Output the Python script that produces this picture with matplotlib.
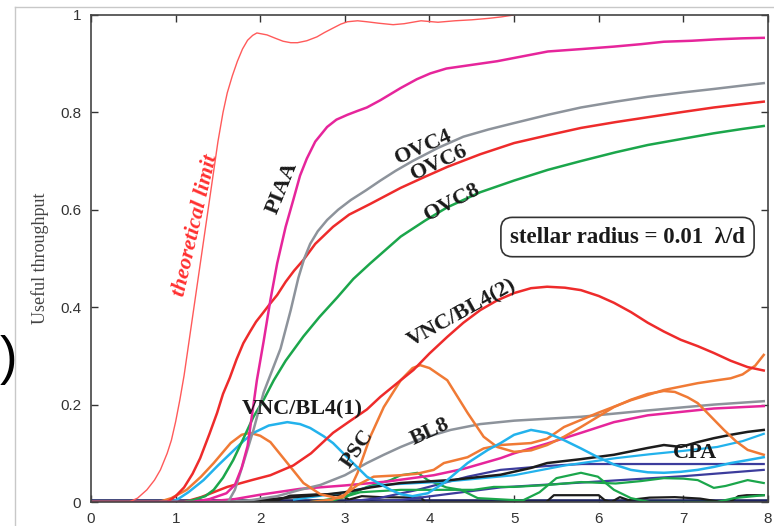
import matplotlib
matplotlib.use('Agg')
import matplotlib.pyplot as plt
from matplotlib.lines import Line2D

# ---- data ----
theo_x = [0, 0.45, 0.55, 0.66, 0.75, 0.82, 0.9, 0.95, 1.0, 1.05, 1.1, 1.2, 1.3, 1.4, 1.5, 1.56,
          1.61, 1.67, 1.73, 1.79, 1.85, 1.91, 1.96, 2.08, 2.18, 2.27, 2.36, 2.44, 2.55, 2.67,
          2.76, 2.86, 2.95, 3.03, 3.15, 3.26, 3.4, 3.57, 3.7, 3.9, 4.1, 4.3, 4.5, 4.7, 4.85, 5.0]
theo_y = [0, 0, 0.008, 0.025, 0.045, 0.066, 0.1, 0.127, 0.165, 0.21, 0.26, 0.38, 0.5, 0.62,
          0.74, 0.8, 0.84, 0.875, 0.905, 0.93, 0.948, 0.958, 0.963, 0.959, 0.952, 0.946,
          0.943, 0.943, 0.947, 0.955, 0.964, 0.973, 0.981, 0.986, 0.988, 0.986, 0.983, 0.98,
          0.982, 0.988, 0.985, 0.988, 0.99, 0.993, 0.996, 1.0]

piaa_x = [0, 1.2, 1.4, 1.6, 1.7, 1.78, 1.85, 1.92, 1.96, 2.04, 2.12, 2.2, 2.3, 2.39, 2.47, 2.55,
          2.65, 2.79, 2.9, 3.03, 3.15, 3.26, 3.42, 3.66, 3.85, 4.01, 4.2, 4.4, 4.6, 4.8, 5.1,
          5.4, 5.8, 6.18, 6.5, 6.77, 7.1, 7.4, 7.7, 7.95]
piaa_y = [0, 0, 0.006, 0.018, 0.035, 0.07, 0.115, 0.2, 0.25, 0.33, 0.415, 0.49, 0.565, 0.62,
          0.67, 0.705, 0.74, 0.77, 0.785, 0.795, 0.803, 0.81, 0.825, 0.85, 0.868, 0.88, 0.89,
          0.895, 0.9, 0.905, 0.915, 0.925, 0.93, 0.935, 0.94, 0.945, 0.947, 0.95, 0.952, 0.953]

ovc4_x = [0, 1.62, 1.7, 1.8, 1.92, 2.04, 2.14, 2.24, 2.36, 2.45, 2.52, 2.59, 2.68, 2.79, 2.92,
          3.07, 3.25, 3.42, 3.6, 3.8, 4.1, 4.4, 4.7, 5.0, 5.4, 5.79, 6.2, 6.58, 7.0, 7.36, 7.7, 7.95]
ovc4_y = [0, 0, 0.025, 0.08, 0.148, 0.225, 0.27, 0.315, 0.394, 0.46, 0.5, 0.53, 0.556, 0.579,
          0.6, 0.62, 0.64, 0.66, 0.68, 0.7, 0.727, 0.75, 0.765, 0.778, 0.795, 0.81, 0.822,
          0.832, 0.841, 0.848, 0.855, 0.86]

ovc6_x = [0, 0.9, 1.0, 1.1, 1.2, 1.29, 1.4, 1.49, 1.56, 1.64, 1.72, 1.8, 1.88, 1.95, 2.04, 2.12,
          2.2, 2.3, 2.4, 2.51, 2.65, 2.86, 3.05, 3.3, 3.66, 3.95, 4.21, 4.6, 5.0, 5.4, 5.79, 6.2,
          6.58, 7.0, 7.36, 7.7, 7.95]
ovc6_y = [0, 0, 0.012, 0.03, 0.058, 0.09, 0.14, 0.183, 0.222, 0.255, 0.293, 0.326, 0.35,
          0.37, 0.39, 0.408, 0.425, 0.452, 0.475, 0.497, 0.53, 0.565, 0.59, 0.612, 0.645,
          0.668, 0.688, 0.714, 0.737, 0.753, 0.768, 0.78, 0.79, 0.801, 0.81, 0.817, 0.822]

ovc8_x = [0, 1.1, 1.21, 1.35, 1.45, 1.56, 1.68, 1.8, 1.92, 2.04, 2.16, 2.3, 2.51, 2.7, 2.91, 3.1,
          3.3, 3.66, 3.95, 4.21, 4.6, 5.0, 5.4, 5.79, 6.2, 6.58, 7.0, 7.36, 7.7, 7.95]
ovc8_y = [0, 0, 0.004, 0.012, 0.025, 0.05, 0.086, 0.13, 0.175, 0.21, 0.25, 0.29, 0.34, 0.38,
          0.42, 0.458, 0.49, 0.545, 0.578, 0.605, 0.636, 0.66, 0.682, 0.70, 0.718, 0.733,
          0.746, 0.757, 0.766, 0.772]

vnc2_x = [0, 1.1, 1.3, 1.61, 1.9, 2.12, 2.39, 2.6, 2.86, 3.05, 3.26, 3.42, 3.66, 3.81, 4.0, 4.21,
          4.4, 4.6, 4.8, 5.0, 5.2, 5.39, 5.6, 5.79, 6.0, 6.18, 6.38, 6.58, 6.77, 6.97, 7.17,
          7.36, 7.56, 7.76, 7.95]
vnc2_y = [0, 0, 0.01, 0.031, 0.045, 0.055, 0.075, 0.1, 0.142, 0.165, 0.19, 0.216, 0.25, 0.271,
          0.305, 0.339, 0.368, 0.394, 0.414, 0.429, 0.439, 0.442, 0.44, 0.435, 0.423, 0.409,
          0.39, 0.368, 0.35, 0.333, 0.32, 0.306, 0.29, 0.277, 0.27]

vnc1_x = [0, 0.9, 1.01, 1.15, 1.33, 1.5, 1.65, 1.8, 1.92, 2.1, 2.32, 2.47, 2.59, 2.75, 2.86, 3.05,
          3.26, 3.54, 3.66, 3.8, 3.98, 4.17, 4.45, 4.69, 4.84, 5.0, 5.2, 5.39, 5.59, 5.79, 5.99,
          6.18, 6.38, 6.58, 6.77, 6.97, 7.17, 7.36, 7.56, 7.76, 7.95]
vnc1_y = [0, 0, 0.004, 0.02, 0.045, 0.075, 0.1, 0.125, 0.142, 0.157, 0.164, 0.16, 0.152, 0.135,
          0.121, 0.088, 0.052, 0.025, 0.016, 0.012, 0.018, 0.039, 0.08, 0.107, 0.121, 0.138,
          0.148, 0.142, 0.127, 0.11, 0.092, 0.077, 0.066, 0.061, 0.06, 0.062, 0.066, 0.072,
          0.08, 0.086, 0.092]

psc_x = [0, 0.8, 0.95, 1.13, 1.3, 1.45, 1.65, 1.78, 1.88, 2.0, 2.12, 2.32, 2.51, 2.71, 2.91, 2.98,
         3.07, 3.15, 3.3, 3.46, 3.66, 3.8, 3.89, 4.0, 4.21, 4.45, 4.64, 4.8, 5.0, 5.2, 5.39, 5.59,
         5.79, 6.0, 6.18, 6.38, 6.58, 6.77, 6.9, 7.05, 7.17, 7.3, 7.48, 7.62, 7.76, 7.95]
psc_y = [0, 0, 0.008, 0.025, 0.052, 0.08, 0.121, 0.138, 0.142, 0.136, 0.123, 0.08, 0.039, 0.016,
         0.008, 0.01, 0.03, 0.06, 0.134, 0.195, 0.25, 0.275, 0.281, 0.275, 0.25, 0.183, 0.134,
         0.113, 0.103, 0.106, 0.117, 0.134, 0.154, 0.176, 0.195, 0.21, 0.222, 0.228, 0.226,
         0.215, 0.203, 0.18, 0.148, 0.125, 0.107, 0.097]

org2_x = [2.6, 2.85, 3.0, 3.15, 3.34, 3.66, 3.85, 4.05, 4.17, 4.45, 4.64, 4.84, 5.2, 5.39, 5.59,
          5.99, 6.38, 6.77, 7.17, 7.4, 7.56, 7.7, 7.85, 7.95]
org2_y = [0, 0.005, 0.015, 0.035, 0.052, 0.055, 0.058, 0.066, 0.08, 0.092, 0.11, 0.117, 0.121,
          0.13, 0.154, 0.183, 0.209, 0.23, 0.244, 0.25, 0.254, 0.262, 0.28, 0.302]

bl8_x = [1.6, 1.9, 2.2, 2.47, 2.71, 3.0, 3.26, 3.46, 3.66, 3.9, 4.25, 4.6, 5.0, 5.79, 6.58, 7.36, 7.95]
bl8_y = [0, 0.004, 0.012, 0.025, 0.035, 0.055, 0.08, 0.097, 0.113, 0.13, 0.148, 0.16, 0.167,
         0.175, 0.188, 0.2, 0.207]

mag2_x = [1.3, 1.7, 2.0, 2.47, 3.0, 3.5, 4.05, 4.4, 4.84, 5.0, 5.39, 5.79, 6.18, 6.58, 6.97, 7.36, 7.95]
mag2_y = [0, 0.006, 0.015, 0.027, 0.034, 0.042, 0.055, 0.068, 0.09, 0.1, 0.12, 0.142, 0.164,
          0.178, 0.185, 0.192, 0.197]

cpa_x = [1.6, 2.0, 2.4, 2.8, 3.0, 3.3, 3.66, 4.25, 4.84, 5.2, 5.39, 5.79, 6.18, 6.58, 6.77, 6.97,
         7.17, 7.36, 7.56, 7.76, 7.95]
cpa_y = [0, 0.004, 0.01, 0.016, 0.02, 0.03, 0.039, 0.045, 0.056, 0.07, 0.08, 0.088, 0.097, 0.111,
         0.117, 0.113, 0.123, 0.131, 0.138, 0.144, 0.148]

cya3_x = [2.4, 3.0, 3.42, 4.2, 5.0, 5.6, 6.2, 6.6, 7.0, 7.4, 7.7, 7.95]
cya3_y = [0.005, 0.02, 0.035, 0.042, 0.055, 0.075, 0.09, 0.098, 0.105, 0.113, 0.125, 0.14]

blk2_x = [1.8, 2.2, 2.35, 2.7, 2.95, 3.05, 3.2, 3.42, 3.9, 3.95, 5.38, 5.47, 6.0, 6.07, 6.15,
          6.25, 6.35, 6.6, 6.9, 7.2, 7.45, 7.55, 7.65, 7.75, 7.95]
blk2_y = [0, 0.003, 0.013, 0.016, 0.014, 0.005, 0.012, 0.01, 0.009, 0.0, 0.0, 0.014, 0.014,
          0.004, 0.0, 0.01, 0.004, 0.009, 0.01, 0.007, 0.0, 0.0, 0.012, 0.014, 0.014]

nav1_x = [3.0, 3.4, 3.86, 4.45, 4.84, 5.39, 5.8, 7.95]
nav1_y = [0, 0.008, 0.025, 0.052, 0.066, 0.074, 0.078, 0.078]
nav2_x = [3.3, 3.66, 4.2, 4.84, 5.8, 7.0, 7.95]
nav2_y = [0, 0.004, 0.016, 0.03, 0.04, 0.053, 0.066]

grn1_x = [2.6, 2.98, 3.26, 3.54, 3.66, 3.86, 3.98, 4.2, 4.37, 4.57, 5.1, 5.3, 5.5, 5.79, 5.99,
          6.18, 6.38, 6.6, 7.4, 7.6, 7.95]
grn1_y = [0, 0.01, 0.031, 0.045, 0.055, 0.06, 0.045, 0.03, 0.025, 0.008, 0.003, 0.02, 0.049,
          0.06, 0.052, 0.025, 0.008, 0.0, 0.0, 0.008, 0.014]
grn2_x = [2.8, 3.18, 3.66, 4.1, 4.52, 4.76, 5.0, 5.4, 5.79, 6.2, 6.5, 6.77, 7.0, 7.17, 7.36,
          7.5, 7.76, 7.95]
grn2_y = [0, 0.02, 0.025, 0.025, 0.025, 0.031, 0.031, 0.035, 0.041, 0.038, 0.043, 0.049,
          0.048, 0.045, 0.029, 0.033, 0.045, 0.039]

base_x = [0, 8]
base_y = [0.002, 0.002]

x_ticks = [0, 1, 2, 3, 4, 5, 6, 7, 8]
y_ticks = [0, 0.2, 0.4, 0.6, 0.8, 1]
y_ticklabels = ['0', '0.2', '0.4', '0.6', '0.8', '1']

RED = '#ee2b2b'
MAG = '#e6259b'
GRY = '#8d939b'
GRN = '#1ba64b'
CYA = '#23b2ec'
ORG = '#f07a35'
BLK = '#1c1c1c'
NAV = '#3c3c9c'

fig = plt.figure(figsize=(7.74, 5.26), dpi=100)
ax = fig.add_axes([0.1176, 0.0456, 0.8746, 0.926])

lw = 1.8
ax.plot(base_x, base_y, color='#1c2260', lw=2.6)
ax.plot(blk2_x, blk2_y, color=BLK, lw=1.6)
ax.plot(nav2_x, nav2_y, color=NAV, lw=1.6)
ax.plot(nav1_x, nav1_y, color=NAV, lw=1.6)
ax.plot(grn2_x, grn2_y, color=GRN, lw=1.6)
ax.plot(grn1_x, grn1_y, color=GRN, lw=1.6)
ax.plot(cya3_x, cya3_y, color=CYA, lw=1.6)
ax.plot(cpa_x, cpa_y, color=BLK, lw=lw)
ax.plot(mag2_x, mag2_y, color=MAG, lw=lw)
ax.plot(bl8_x, bl8_y, color=GRY, lw=lw)
ax.plot(org2_x, org2_y, color=ORG, lw=lw)
ax.plot(psc_x, psc_y, color=ORG, lw=lw)
ax.plot(vnc1_x, vnc1_y, color=CYA, lw=lw)
ax.plot(vnc2_x, vnc2_y, color=RED, lw=lw)
ax.plot(ovc8_x, ovc8_y, color=GRN, lw=lw)
ax.plot(ovc6_x, ovc6_y, color=RED, lw=lw)
ax.plot(ovc4_x, ovc4_y, color=GRY, lw=lw)
ax.plot(piaa_x, piaa_y, color=MAG, lw=lw)
ax.plot(theo_x, theo_y, color='#ff5a5a', lw=1.0)

ax.set_xlim(0, 8)
ax.set_ylim(0, 1)
ax.set_xticks(x_ticks)
ax.set_yticks(y_ticks)
ax.set_yticklabels(y_ticklabels)
ax.tick_params(direction='in', top=True, right=True, length=5, width=1,
               labelsize=11, colors='#333333', pad=7)
for lab in ax.get_xticklabels() + ax.get_yticklabels():
    lab.set_fontfamily('Liberation Sans')
for s in ax.spines.values():
    s.set_color('#444444')
    s.set_linewidth(1.2)

ax.set_ylabel('Useful throughput', fontfamily='Liberation Serif', fontsize=13,
              color='#444444', labelpad=8)

lbl = dict(fontfamily='Liberation Serif', fontweight='bold', fontsize=16,
           color='#1a1a1a', ha='center', va='center')
ax.text(1.23, 0.567, 'theoretical limit', rotation=77, color='#ff3030',
        fontstyle='italic', fontfamily='Liberation Serif', fontweight='bold',
        fontsize=16, ha='center', va='center')
ax.text(2.26, 0.645, 'PIAA', rotation=68, **lbl)
ax.text(3.93, 0.729, 'OVC4', rotation=24, **lbl)
ax.text(4.12, 0.696, 'OVC6', rotation=25, **lbl)
ax.text(4.27, 0.616, 'OVC8', rotation=28, **lbl)
ax.text(4.39, 0.388, 'VNC/BL4(2)', rotation=29, **lbl)
ax.text(2.5, 0.189, 'VNC/BL4(1)', **lbl)
ax.text(3.15, 0.109, 'PSC', rotation=55, **lbl)
ax.text(4.01, 0.144, 'BL8', rotation=25, **lbl)
ax.text(7.14, 0.1, 'CPA', **lbl)
ax.text(6.34, 0.544, 'stellar radius = 0.01  \u03bb/d', fontfamily='Liberation Serif',
        fontweight='bold', fontsize=16.5, color='#1a1a1a', ha='center', va='center',
        bbox=dict(boxstyle='round,pad=0.4,rounding_size=0.5', fc='white',
                  ec='#333333', lw=1.2))

# page frame and cut-off panel letter
fig.add_artist(Line2D([15 / 774, 15 / 774], [0, 1 - 7 / 526], color='#c8c8c8', lw=1))
fig.add_artist(Line2D([15 / 774, 1], [1 - 7 / 526, 1 - 7 / 526], color='#c8c8c8', lw=1))
fig.text(0.0, 0.316, ')', fontsize=38, fontfamily='Liberation Sans', ha='left', va='center')

fig.savefig('out.png', dpi=100)
